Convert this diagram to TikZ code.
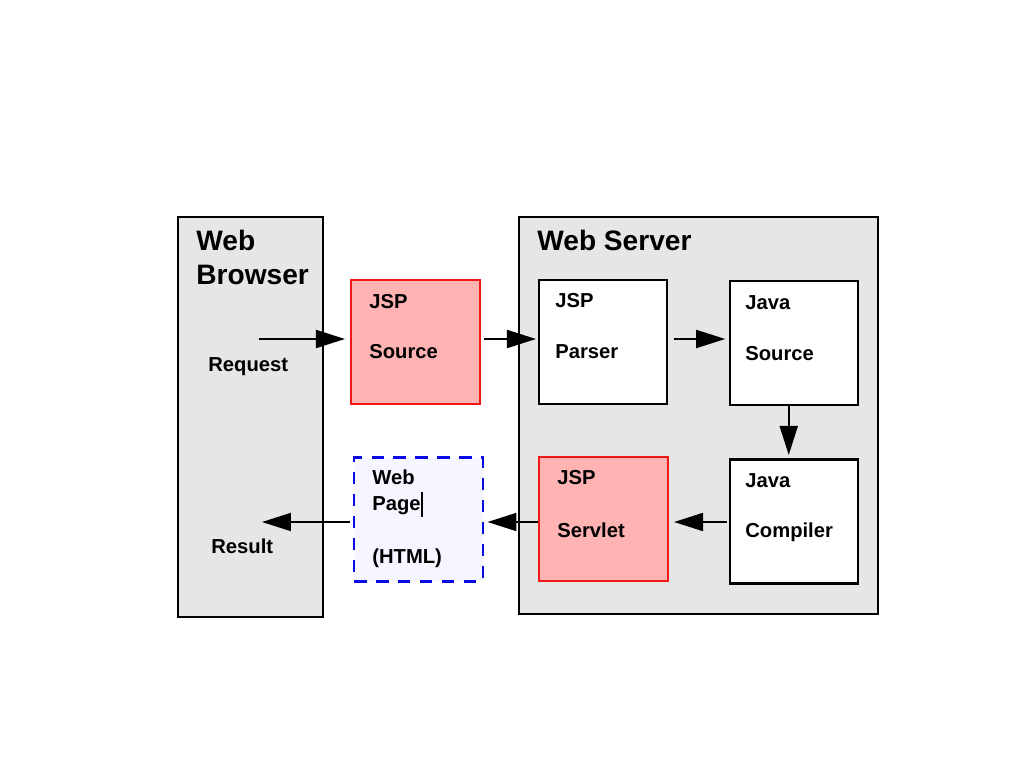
\documentclass[tikz,border=0pt]{standalone}
\usepackage{fontspec}
\setmainfont{Liberation Sans}
\usepackage{xcolor}
\usetikzlibrary{positioning,arrows.meta}
\definecolor{panelGray}{HTML}{E6E6E6}
\definecolor{jspPink}{HTML}{FFB3B3}
\definecolor{jspRed}{HTML}{F01818}
\definecolor{pageBlue}{HTML}{0A0AE6}
\definecolor{pageFill}{HTML}{F5F6FF}

\begin{document}
\begin{tikzpicture}[x=0.02cm, y=-0.02cm,
  panel/.style={rectangle, draw=black, line width=1.1pt, fill=panelGray, inner sep=0pt},
  box/.style={rectangle, draw=black, line width=1.2pt, fill=white, inner sep=0pt, minimum width=2.57cm, minimum height=2.48cm},
  pinkbox/.style={box, draw=jspRed, fill=jspPink},
  pagebox/.style={box, draw=pageBlue, fill=pageFill, line width=1.4pt, dash pattern=on 7pt off 5.5pt},
  title/.style={anchor=base west, inner sep=0pt, font=\fontsize{16}{19}\selectfont\bfseries},
  lbl/.style={anchor=base west, inner sep=0pt, font=\fontsize{11.5}{14}\selectfont\bfseries},
  arr/.style={-{Triangle[length=0.58cm, width=0.36cm]}, line width=1.1pt}]
\useasboundingbox (0,0) rectangle (1024,768);
% the two panels
\node[panel, minimum width=2.9cm, minimum height=8cm] (browser) at (250.5,417) {};
\node[panel, minimum width=7.18cm, minimum height=7.94cm] (server) at (698.5,415.5) {};
\node[title] at (196,250) {Web};
\node[title] at (196,284) {Browser};
\node[title] at (537,250) {Web Server};
% boxes
\node[pinkbox] (jspsrc) at (415.5,342) {};
\node[box] (parser) at (603,342) {};
\node[box] (javasrc) at (794,343) {};
\node[box] (compiler) at (794,521.5) {};
\node[pinkbox] (servlet) at (603.5,519) {};
\node[pagebox] (webpage) at (418.5,519.5) {};
% labels
\node[lbl] at (369,308) {JSP};
\node[lbl] at (369,358) {Source};
\node[lbl] at (555,307) {JSP};
\node[lbl] at (555,358) {Parser};
\node[lbl] at (745,309) {Java};
\node[lbl] at (745,360) {Source};
\node[lbl] at (745,487) {Java};
\node[lbl] at (745,537) {Compiler};
\node[lbl] at (557,484) {JSP};
\node[lbl] at (557,537) {Servlet};
\node[lbl] at (372,484) {Web};
\node[lbl] (page) at (372,510) {Page};
\node[lbl] at (372,563) {(HTML)};
\node[lbl] at (208,371) {Request};
\node[lbl] at (211,553) {Result};
\draw[line width=0.6pt] (page.base east) ++(1,-18) -- ++(0,25);
% connectors
\coordinate (req) at (259,339);
\coordinate (res) at (262,522);
\draw[arr, shorten >=3pt] (req) -- (jspsrc.west |- req);
\draw[arr, shorten <=2pt, shorten >=1pt] (jspsrc.east |- req) -- (parser.west |- req);
\draw[arr, shorten <=3pt, shorten >=2pt] (parser.east |- req) -- (javasrc.west |- req);
\draw[arr, shorten >=2pt] ([xshift=-3]javasrc.south) -- ([xshift=-3]compiler.north);
\draw[arr, shorten >=3pt, shorten <=1pt] (compiler.west |- 0,522) -- (servlet.east |- 0,522);
\draw[arr, shorten >=2pt] (servlet.west |- 0,522) -- (webpage.east |- 0,522);
\draw[arr, shorten <=2pt] (webpage.west |- res) -- (res);
\end{tikzpicture}
\end{document}
